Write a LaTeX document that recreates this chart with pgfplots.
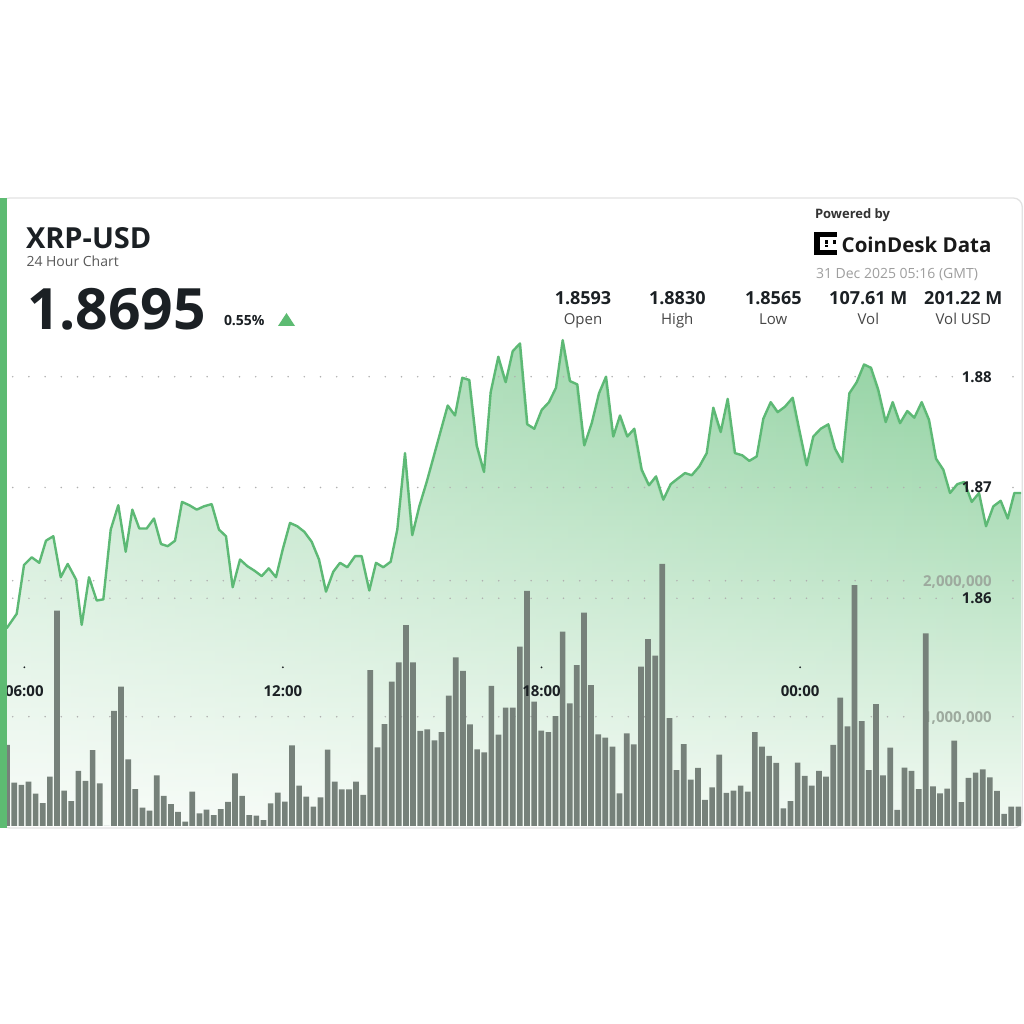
\documentclass[border=0pt]{standalone}
\usepackage{fontspec}
\setmainfont{Open Sans}
\usepackage{pgfplots}
\usepackage{pgfplotstable}
\pgfplotsset{compat=1.18}
\usetikzlibrary{fadings}
\tikzfading[name=fade to right, left color=transparent!0, right color=transparent!100]
\definecolor{accent}{HTML}{5DBB72}
\definecolor{linegreen}{HTML}{5DB975}
\definecolor{areatop}{HTML}{8ACF9B}
\definecolor{areamid}{HTML}{D0EDD7}
\definecolor{areabot}{HTML}{F2FAF3}
\definecolor{barcol}{HTML}{76817A}
\definecolor{gridcol}{HTML}{B0B0B0}
\definecolor{volcol}{HTML}{9DAA9E}
\definecolor{darktext}{HTML}{1B2024}
\definecolor{cardborder}{HTML}{E2E2E2}

\pgfplotstableread{
t p
5.592 1.8573
5.824 1.8586
5.993 1.8630
6.172 1.8637
6.348 1.8632
6.503 1.8652
6.673 1.8656
6.845 1.8619
7.007 1.8631
7.200 1.8617
7.332 1.8576
7.501 1.8619
7.680 1.8598
7.833 1.8599
8.005 1.8662
8.181 1.8684
8.353 1.8642
8.506 1.8680
8.668 1.8663
8.840 1.8663
9.009 1.8672
9.172 1.8649
9.327 1.8647
9.497 1.8652
9.659 1.8687
9.828 1.8684
10.000 1.8680
10.169 1.8683
10.348 1.8685
10.517 1.8662
10.680 1.8656
10.835 1.8610
11.005 1.8635
11.174 1.8629
11.336 1.8625
11.508 1.8620
11.671 1.8627
11.840 1.8619
11.995 1.8644
12.165 1.8668
12.334 1.8665
12.497 1.8660
12.668 1.8651
12.838 1.8635
13.000 1.8606
13.169 1.8624
13.325 1.8632
13.494 1.8628
13.673 1.8638
13.828 1.8638
14.005 1.8607
14.160 1.8632
14.329 1.8628
14.501 1.8633
14.654 1.8662
14.833 1.8731
15.002 1.8657
15.165 1.8683
15.336 1.8705
15.506 1.8729
15.668 1.8752
15.824 1.8774
15.993 1.8765
16.162 1.8799
16.325 1.8797
16.497 1.8738
16.666 1.8714
16.821 1.8786
16.998 1.8818
17.169 1.8795
17.332 1.8823
17.501 1.8830
17.671 1.8757
17.833 1.8753
18.005 1.8770
18.174 1.8777
18.336 1.8790
18.492 1.8833
18.661 1.8796
18.831 1.8793
18.993 1.8738
19.165 1.8758
19.334 1.8785
19.497 1.8800
19.666 1.8746
19.821 1.8765
19.991 1.8746
20.153 1.8753
20.325 1.8716
20.494 1.8702
20.657 1.8710
20.826 1.8689
20.998 1.8703
21.160 1.8708
21.330 1.8713
21.485 1.8711
21.661 1.8719
21.833 1.8731
21.986 1.8772
22.158 1.8750
22.320 1.8780
22.489 1.8731
22.659 1.8729
22.821 1.8724
22.993 1.8728
23.146 1.8762
23.318 1.8777
23.480 1.8768
23.650 1.8773
23.828 1.8781
23.981 1.8752
24.153 1.8720
24.306 1.8746
24.478 1.8753
24.654 1.8757
24.810 1.8735
24.979 1.8723
25.142 1.8785
25.313 1.8795
25.483 1.8811
25.645 1.8808
25.814 1.8788
25.986 1.8759
26.148 1.8777
26.318 1.8758
26.487 1.8769
26.650 1.8763
26.821 1.8777
26.991 1.8761
27.153 1.8726
27.323 1.8716
27.478 1.8695
27.647 1.8703
27.810 1.8705
27.981 1.8687
28.151 1.8695
28.313 1.8665
28.483 1.8683
28.654 1.8688
28.817 1.8672
28.970 1.8695
29.179 1.8695
}\pricetable

\pgfplotstableread{
v
0.792
0.515
0.498
0.522
0.434
0.365
0.559
1.779
0.456
0.380
0.601
0.529
0.755
0.510
0.150
1.042
1.221
0.687
0.468
0.331
0.309
0.569
0.417
0.358
0.301
0.228
0.449
0.290
0.316
0.277
0.321
0.373
0.584
0.417
0.277
0.272
0.240
0.363
0.441
0.375
0.790
0.493
0.412
0.338
0.407
0.757
0.522
0.466
0.466
0.522
0.426
1.343
0.775
0.946
1.257
1.400
1.674
1.400
0.895
0.907
0.826
0.887
1.154
1.437
1.336
0.944
0.760
0.738
1.226
0.868
1.066
1.066
1.515
1.926
1.110
0.897
0.887
1.005
1.625
1.098
1.380
1.765
1.233
0.870
0.846
0.779
0.437
0.878
0.797
1.368
1.571
1.449
2.123
0.990
0.608
0.799
0.537
0.623
0.388
0.481
0.721
0.439
0.456
0.493
0.449
0.887
0.779
0.711
0.660
0.326
0.380
0.662
0.564
0.493
0.601
0.559
0.792
1.140
0.929
1.968
0.968
0.608
1.093
0.569
0.772
0.314
0.625
0.601
0.468
1.613
0.488
0.437
0.471
0.824
0.371
0.551
0.588
0.613
0.554
0.454
0.285
0.338
0.338
}\voltable

\pgfplotsset{
  base/.style={scale only axis, width=1014bp, height=526bp,
    at={(7bp,198bp)}, anchor=south west,
    xmin=5.59861, xmax=29.1253, hide axis, clip mode=individual},
}
\tikzset{
  dotgrid/.style={gridcol, line width=1.7bp, line cap=round, dash pattern=on 0pt off 16.2bp},
  plab/.style={anchor=base east, yshift=-5.4bp, font=\fontsize{15bp}{18bp}\selectfont\bfseries, text=darktext},
  vlab/.style={anchor=base east, yshift=-5.4bp, font=\fontsize{15bp}{18bp}\selectfont\bfseries, text=volcol},
  tlab/.style={anchor=base, font=\fontsize{15bp}{18bp}\selectfont\bfseries, text=darktext},
}

\begin{document}
\begin{tikzpicture}[x=1bp,y=1bp,every node/.style={inner sep=0pt,outer sep=0pt}]
\useasboundingbox (0,0) rectangle (1024,1024);
\fill[white] (0,0) rectangle (1024,1024);
\filldraw[fill=white, draw=cardborder, line width=1.3bp, rounded corners=9bp] (0.7,196) rectangle (1022.3,826);

% ---------- area under the price line (price measured from the bottom edge 1.83945) ----------
\begin{axis}[base, ymin=0, ymax=0.047472]
\addplot[top color=areatop, middle color=areamid, bottom color=areabot, draw=none]
  table[x=t, y expr=\thisrow{p}-1.83945]{\pricetable} \closedcycle;
\addplot[fill=white, fill opacity=0.5, draw=none, path fading=fade to right]
  table[x=t, y expr=\thisrow{p}-1.83945]{\pricetable} \closedcycle;
\end{axis}

% ---------- price axis ----------
\begin{axis}[base, ymin=1.83945, ymax=1.886922]
\draw[dotgrid] (axis cs:5.7309,1.86) -- (axis cs:27.54,1.86);
\draw[dotgrid] (axis cs:5.7309,1.87) -- (axis cs:27.54,1.87);
\draw[dotgrid] (axis cs:5.7309,1.88) -- (axis cs:27.54,1.88);
\fill[gridcol] (axis cs:28.9397,1.86) circle (0.85bp);
\fill[gridcol] (axis cs:28.9397,1.87) circle (0.85bp);
\fill[gridcol] (axis cs:28.9397,1.88) circle (0.85bp);
\addplot[linegreen, line width=2.4bp, line join=round] table[x=t,y=p]{\pricetable};
\node[plab] at (axis cs:28.4455,1.86) {1.86};
\node[plab] at (axis cs:28.4455,1.87) {1.87};
\node[plab] at (axis cs:28.4455,1.88) {1.88};
\end{axis}

% ---------- volume axis ----------
\begin{axis}[base, ymin=0.19632, ymax=4.0640]
\draw[dotgrid] (axis cs:5.7309,1) -- (axis cs:26.44,1);
\draw[dotgrid] (axis cs:5.7309,2) -- (axis cs:26.44,2);
\fill[gridcol] (axis cs:28.9397,1) circle (0.85bp);
\fill[gridcol] (axis cs:28.9397,2) circle (0.85bp);
\node[vlab] at (axis cs:28.4455,2) {2,000,000};
\node[vlab] at (axis cs:28.4455,1) {1,000,000};
\addplot[ybar, bar width=0.1322, bar shift=0pt, fill=barcol, draw=none]
  table[x expr=5.60211+0.16522*\coordindex, y=v]{\voltable};
\fill[darktext] (axis cs:6,1.3632) circle (1bp);
\fill[darktext] (axis cs:12,1.3632) circle (1bp);
\fill[darktext] (axis cs:18,1.3632) circle (1bp);
\fill[darktext] (axis cs:24,1.3632) circle (1bp);
\node[tlab] at (axis cs:6,1.1449) {06:00};
\node[tlab] at (axis cs:12,1.1449) {12:00};
\node[tlab] at (axis cs:18,1.1449) {18:00};
\node[tlab] at (axis cs:24,1.1449) {00:00};
\end{axis}

% ---------- header ----------
\node[anchor=base west, font=\fontsize{29bp}{34bp}\selectfont\bfseries, text=darktext] at (26,775.7) {XRP-USD};
\node[anchor=base west, font=\fontsize{14bp}{17bp}\selectfont, text=black!65] at (26.5,757.3) {24 Hour Chart};
\node[anchor=base west, font=\fontsize{57bp}{61bp}\selectfont\bfseries, text=darktext] at (27,694) {1.8695};
\node[anchor=base west, font=\fontsize{14bp}{17bp}\selectfont\bfseries, text=darktext] at (224,698.3) {0.55\%};
\fill[accent] (278,698) -- (295,698) -- (286.5,711) -- cycle;

\node[anchor=base west, font=\fontsize{13bp}{16bp}\selectfont\bfseries, text=black!80] at (815,805.7) {Powered by};
% logo
\fill[black] (814,768.5) rectangle (819.5,792);
\fill[black] (814,787.3) rectangle (836.5,792);
\fill[black] (814,768.5) rectangle (836.5,773.5);
\fill[black] (824.5,780) rectangle (828,783.5);
\fill[black] (832.5,780) rectangle (836,783.5);
\fill[black] (824.5,776.5) rectangle (828,778.5);
\node[anchor=base west, font=\fontsize{20.5bp}{24bp}\selectfont\bfseries, text=black!90] at (841.7,771.7) {CoinDesk Data};
\node[anchor=base west, font=\fontsize{14bp}{17bp}\selectfont, text=black!38] at (816,745.7) {31 Dec 2025 05:16 (GMT)};

\foreach \cx/\val/\lab in {583/1.8593/Open, 677.3/1.8830/High, 773.3/1.8565/Low, 868.3/107.61 M/Vol, 963.3/201.22 M/Vol USD}{
  \node[anchor=base, font=\fontsize{18bp}{21bp}\selectfont\bfseries, text=darktext] at (\cx,719.7) {\val};
  \node[anchor=base, font=\fontsize{15bp}{18bp}\selectfont, text=black!72] at (\cx,699) {\lab};
}

\fill[accent] (0,196) rectangle (7,826);
\end{tikzpicture}
\end{document}
